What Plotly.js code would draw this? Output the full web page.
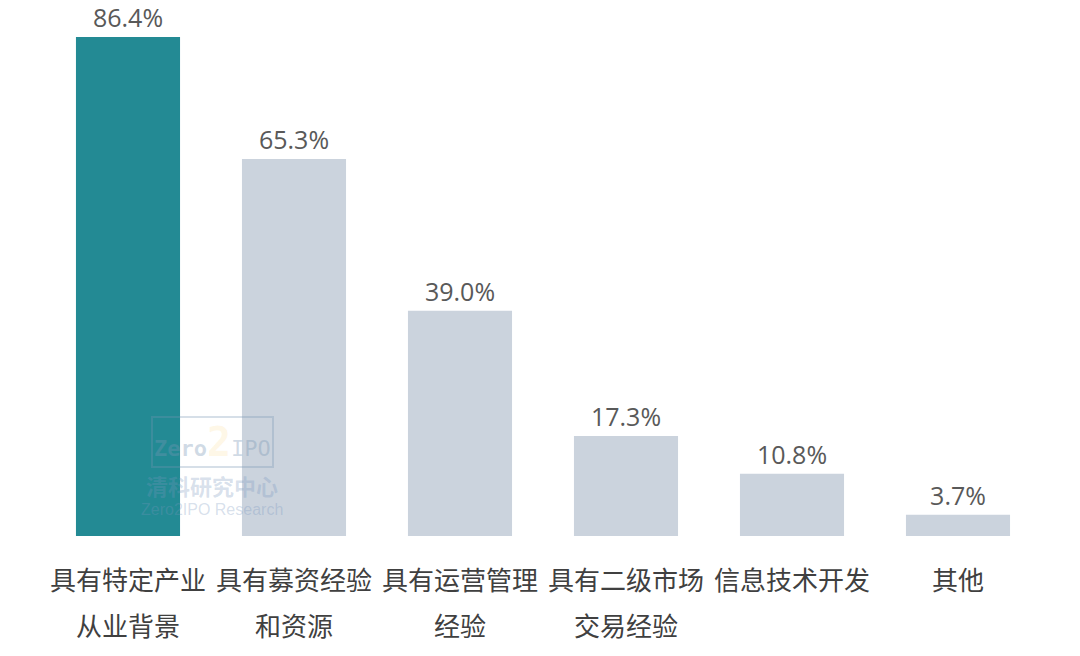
<!DOCTYPE html>
<html><head><meta charset="utf-8">
<script src="https://cdn.plot.ly/plotly-3.0.1.min.js"></script>
<style>html,body{margin:0;padding:0;background:#fff}#c{width:1080px;height:656px}</style>
</head><body><div id="c"></div>
<script>
const categories = ["具有特定产业从业背景","具有募资经验和资源","具有运营管理经验","具有二级市场交易经验","信息技术开发","其他"];
const labelLine1 = ["具有特定产业","具有募资经验","具有运营管理","具有二级市场","信息技术开发","其他"];
const labelLine2 = ["从业背景","和资源","经验","交易经验","",""];
const values = [86.4, 65.3, 39.0, 17.3, 10.8, 3.7];
const labels = ["86.4%","65.3%","39.0%","17.3%","10.8%","3.7%"];
const colors = ["#238A94","#CBD3DD","#CBD3DD","#CBD3DD","#CBD3DD","#CBD3DD"];

const tickFont = {family:'Noto Sans CJK SC, sans-serif', size:26, color:'#404040'};
const anns = [];
categories.forEach((c,i)=>{
  anns.push({x:c, xref:'x', yref:'paper', y:0, yanchor:'middle', yshift:-42, text:labelLine1[i], showarrow:false, font:tickFont});
  if (labelLine2[i]) anns.push({x:c, xref:'x', yref:'paper', y:0, yanchor:'middle', yshift:-88, text:labelLine2[i], showarrow:false, font:tickFont});
});
anns.push(
  {xref:'paper', yref:'paper', x:0.168, y:0.182, xanchor:'center', yanchor:'middle',
   text:"<b>Zero</b><span style='font-size:40px;color:rgba(250,215,130,0.55)'><b>2</b></span>IPO",
   showarrow:false, bordercolor:'rgba(120,150,180,0.3)', borderwidth:2, borderpad:1,
   font:{family:'DejaVu Sans Mono', size:22, color:'rgba(120,150,180,0.35)'}},
  {xref:'paper', yref:'paper', x:0.168, y:0.098, xanchor:'center', yanchor:'middle', text:'<b>清科研究中心</b>', showarrow:false,
   font:{family:'Noto Sans CJK SC', size:22, color:'rgba(120,150,190,0.3)'}},
  {xref:'paper', yref:'paper', x:0.168, y:0.052, xanchor:'center', yanchor:'middle', text:'Zero2IPO Research', showarrow:false,
   font:{family:'Liberation Sans', size:16, color:'rgba(120,150,190,0.3)'}}
);

Plotly.newPlot('c', [{
  type:'bar', x:categories, y:values, text:labels, textposition:'outside',
  textfont:{family:'Open Sans, Noto Sans, sans-serif', size:25, color:'#595959'},
  marker:{color:colors}, cliponaxis:false, hoverinfo:'none'
}], {
  width:1080, height:656,
  margin:{l:45, r:39, t:20, b:120},
  bargap:0.373,
  paper_bgcolor:'#fff', plot_bgcolor:'#fff',
  showlegend:false,
  xaxis:{showline:false, showgrid:false, zeroline:false, ticks:'', showticklabels:false},
  yaxis:{range:[0,89.35], visible:false, showgrid:false, zeroline:false},
  annotations:anns
}, {displayModeBar:false, staticPlot:true});
</script></body></html>
